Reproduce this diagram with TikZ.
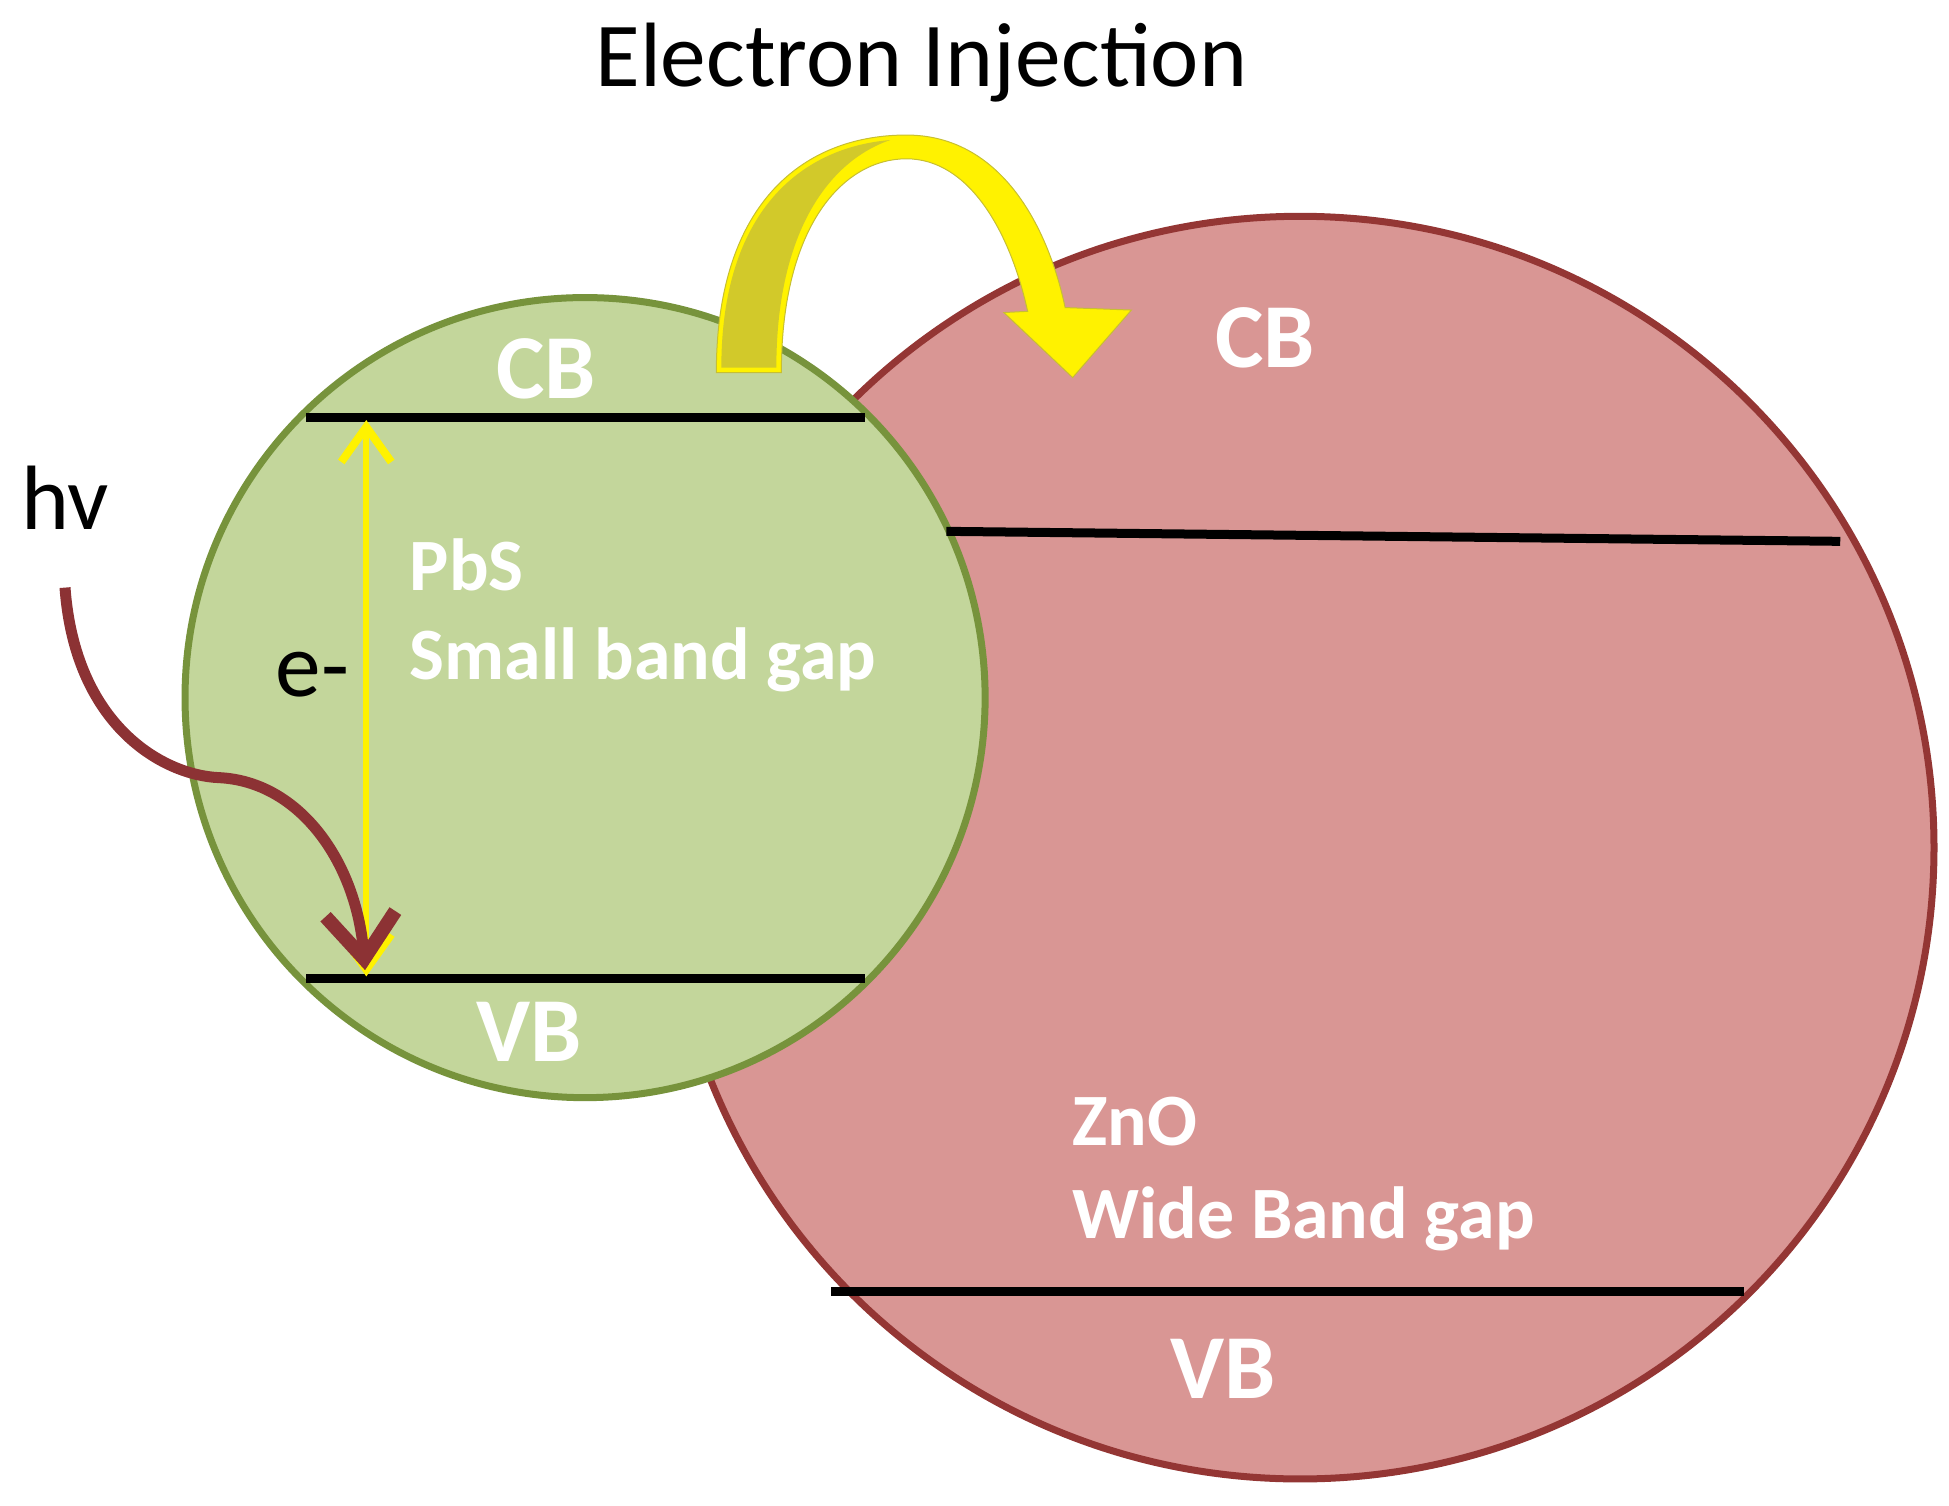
\documentclass[tikz,border=0pt]{standalone}
\usepackage{fontspec}
\setmainfont{Carlito}
\usetikzlibrary{arrows.meta}
\definecolor{pbsfill}{HTML}{C3D69B}
\definecolor{pbsline}{HTML}{77933C}
\definecolor{znofill}{HTML}{D99694}
\definecolor{znoline}{HTML}{943634}
\definecolor{hvbrown}{HTML}{8C3234}
\tikzset{
  band/.style={line width=0.09cm, black},
  lab/.style={text=white, font=\bfseries\fontsize{26}{30}\selectfont},
  txt/.style={text=white, font=\bfseries\fontsize{21}{25}\selectfont, anchor=west}
}
\begin{document}
\begin{tikzpicture}[x=0.0125cm, y=-0.0125cm]
    \useasboundingbox (0,0) rectangle (1559,1204);

    % ZnO and PbS particles
    \draw[fill=znofill, draw=znoline, line width=0.07cm] (1040,678) ellipse [x radius=507, y radius=505];
    \draw[fill=pbsfill, draw=pbsline, line width=0.07cm] (468,558) circle (320);

    % band edges
    \draw[band] (245,334) -- (692,334);
    \draw[band] (245,783) -- (692,783);
    \draw[band] (757,425) -- (1472,433);
    \draw[band] (665,1033) -- (1395,1033);

    % labels
    \node[font=\fontsize{26}{30}\selectfont] (title) at (737,50) {Electron Injection};
    \node[lab] (cbl) at (437,295) {CB};
    \node[lab] (vbl) at (423,825) {VB};
    \node[lab] (cbr) at (1012,270) {CB};
    \node[lab] (vbr) at (978,1095) {VB};
    \node[txt] (pbs) at (318,452) {PbS};
    \node[txt] (pbsgap) at (318,528) {Small band gap};
    \node[txt] (zno) at (848,897) {ZnO};
    \node[txt] (znogap) at (848,975) {Wide Band gap};
    \node[font=\fontsize{26}{30}\selectfont] (hv) at (52,398) {hv};
    \node[font=\fontsize{26}{30}\selectfont] (el) at (250,540) {e-};

    % excitation
    \coordinate (cb) at (293,336);
    \coordinate (vb) at (293,781);
    \draw[yellow, line width=0.06cm, {Straight Barb[length=0.35cm,width=0.5cm,line width=0.08cm]}-{Straight Barb[length=0.35cm,width=0.5cm,line width=0.08cm]}] (cb) -- (vb);

    % photon
    \coordinate (hvs) at (52,470);
    \draw[hvbrown, line width=0.11cm, -{Straight Barb[length=0.45cm,width=0.7cm,line width=0.14cm]}]
        (hvs) .. controls (60,580) and (130,620) .. (175,622)
        .. controls (240,625) and (285,690) .. (292,776);

    % injection arrow
    \fill[yellow, draw=yellow!75!black, line width=0.01cm]
        (573,298) .. controls (573,160) and (645,108) .. (725,108)
        .. controls (800,108) and (838,180) .. (852,246)
        -- (905,248) -- (858,302) -- (803,250) -- (822,249)
        .. controls (808,185) and (775,127) .. (725,127)
        .. controls (675,127) and (625,180) .. (625,298) -- cycle;
    \fill[yellow!80!black]
        (577,294) .. controls (577,170) and (640,118) .. (712,112)
        .. controls (660,130) and (621,190) .. (621,294) -- cycle;
\end{tikzpicture}
\end{document}
